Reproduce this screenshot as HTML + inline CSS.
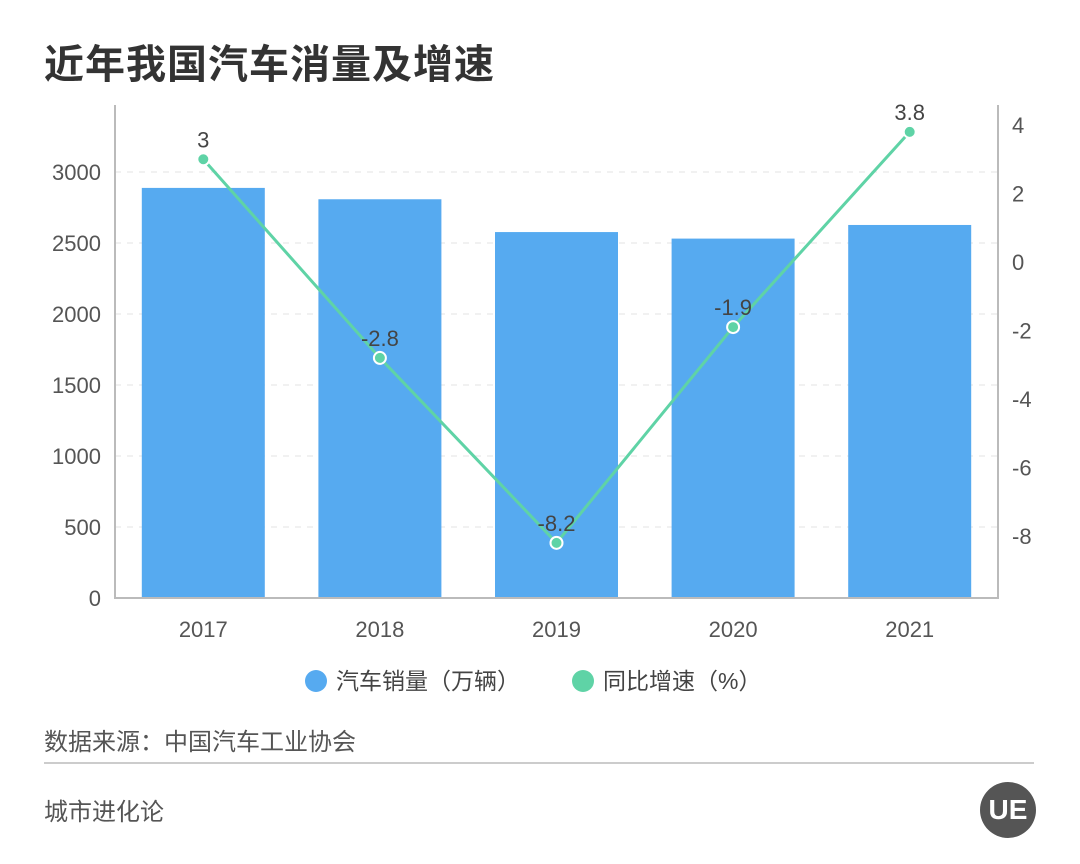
<!DOCTYPE html>
<html><head><meta charset="utf-8"><style>
body{margin:0;background:#fff;font-family:"Liberation Sans","Noto Sans CJK SC",sans-serif;}
#wrap{position:relative;width:1080px;height:864px;overflow:hidden;background:#fff}
.t{position:absolute;white-space:nowrap}
</style></head><body>
<div id="wrap">
<div class="t" style="left:44px;top:32px;font-size:40px;font-weight:bold;color:#333;letter-spacing:1px">近年我国汽车消量及增速</div>
<svg id="chart" width="1080" height="864" style="position:absolute;left:0;top:0"></svg>
<div class="t" style="left:44px;top:722px;font-size:24px;color:#555">数据来源：中国汽车工业协会</div>
<div style="position:absolute;left:44px;top:762px;width:990px;height:2px;background:#ccc"></div>
<div class="t" style="left:44px;top:792px;font-size:24px;color:#555">城市进化论</div>
<div style="position:absolute;left:980px;top:782px;width:56px;height:56px;border-radius:50%;background:#555;color:#fff;font-size:28px;font-weight:bold;text-align:center;line-height:56px">UE</div>
</div>
<script>
const categories=["2017","2018","2019","2020","2021"];
const sales=[2888,2808,2577,2531,2627];
const growth=[3,-2.8,-8.2,-1.9,3.8];
const growthLabels=["3","-2.8","-8.2","-1.9","3.8"];
const leftTicks=[0,500,1000,1500,2000,2500,3000];
const rightTicks=[4,2,0,-2,-4,-6,-8];
const svg=document.getElementById('chart');
const NS='http://www.w3.org/2000/svg';
const L=115,R=998,B=598,T=105;
const yL=v=>B-v*(426/3000);
const yR=v=>262-v*34.25;
const band=(R-L)/categories.length;
const xC=i=>L+band*(i+0.5);
function mk(tag,a,txt){const e=document.createElementNS(NS,tag);for(const k in a)e.setAttribute(k,a[k]);if(txt!=null)e.textContent=txt;svg.appendChild(e);return e;}
leftTicks.forEach(v=>{
 if(v>0){const g=mk('line',{x1:L,x2:R,y1:yL(v),y2:yL(v),stroke:'#e3e3e3','stroke-dasharray':'6,6'});
 
 }
 const t=mk('text',{x:L-14,y:yL(v)+8,'text-anchor':'end','font-size':22,fill:'#555'},v);
 
 
});
rightTicks.forEach(v=>{
 const t=mk('text',{x:R+14,y:yR(v)+8,'font-size':22,fill:'#555'},v);
 
 
});
sales.forEach((v,i)=>{
 const r=mk('rect',{x:xC(i)-61.5,y:yL(v),width:123,height:B-yL(v),fill:'#56aaf0'});
 
 
 const t=mk('text',{x:xC(i),y:637,'text-anchor':'middle','font-size':22,fill:'#555'},categories[i]);
 
 
});
const ax=mk('path',{d:`M${L} ${T}V${B}H${R}V${T}`,fill:'none',stroke:'#bbb','stroke-width':2});


const ln=mk('polyline',{points:growth.map((v,i)=>xC(i)+','+yR(v)).join(' '),fill:'none',stroke:'#5fd3a6','stroke-width':3});


growth.forEach((v,i)=>{
 const c=mk('circle',{cx:xC(i),cy:yR(v),r:6,fill:'#5fd3a6',stroke:'#fff','stroke-width':2});
 
 
 const t=mk('text',{x:xC(i),y:yR(v)-12,'text-anchor':'middle','font-size':22,fill:'#444'},growthLabels[i]);
 
 
});
const lg1=mk('circle',{cx:316,cy:681,r:11,fill:'#56aaf0'});


const lt1=mk('text',{x:336,y:689,'font-size':23,fill:'#444'},'汽车销量（万辆）');


const lg2=mk('circle',{cx:583,cy:681,r:11,fill:'#5fd3a6'});


const lt2=mk('text',{x:603,y:689,'font-size':23,fill:'#444'},'同比增速（%）');


</script>
</body></html>
